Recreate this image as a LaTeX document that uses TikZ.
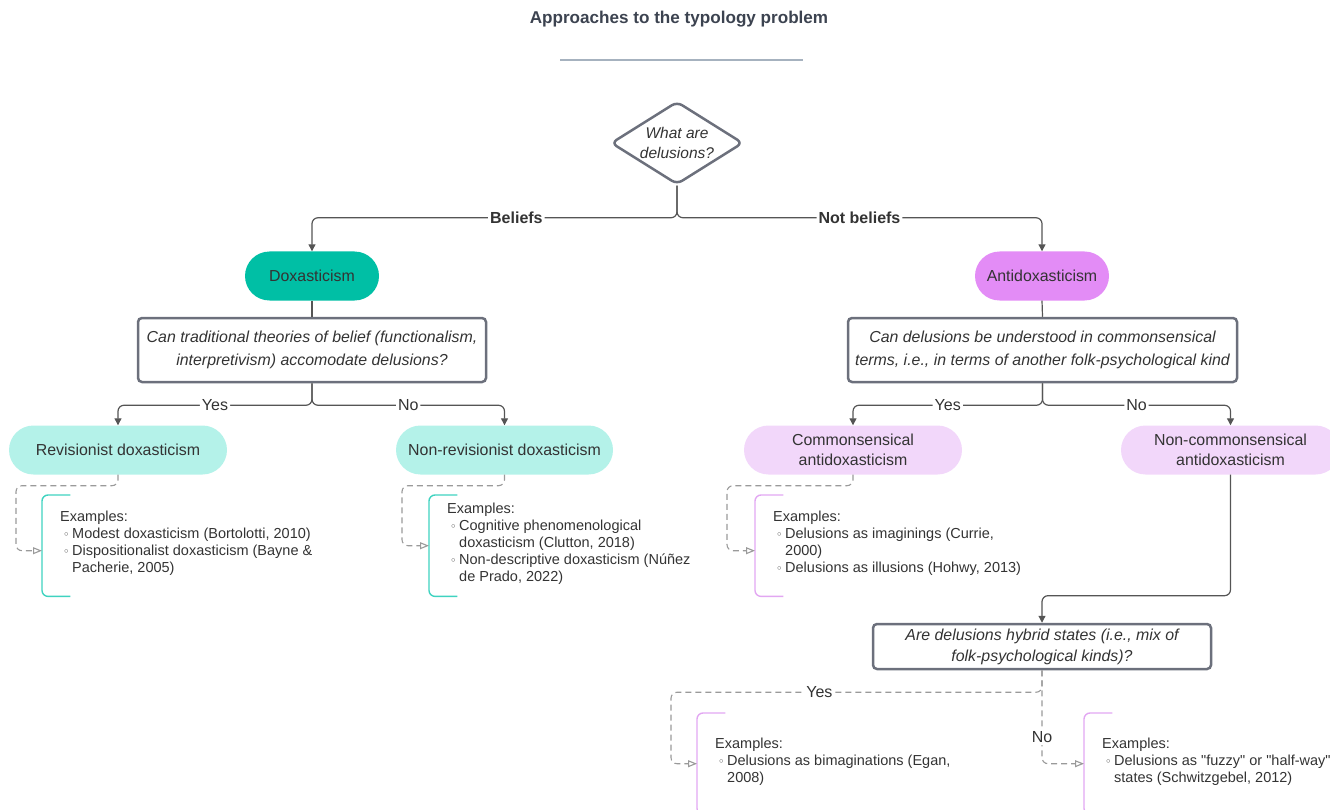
\documentclass[tikz,border=0pt]{standalone}
\usepackage{fontspec}
\setmainfont{Liberation Sans}[Ligatures=TeXOff]
\newfontfamily\dejavu{DejaVu Sans}
\usetikzlibrary{shapes.geometric,shapes.misc,arrows.meta,calc}
\definecolor{txt}{HTML}{333333}
\definecolor{titlecol}{HTML}{3C4350}
\definecolor{rulecol}{HTML}{A6B2BF}
\definecolor{boxcol}{HTML}{6C707C}
\definecolor{conncol}{HTML}{555555}
\definecolor{dashcol}{HTML}{9A9A9A}
\definecolor{teal}{HTML}{00BFA5}
\definecolor{violet}{HTML}{E38CF6}
\definecolor{lteal}{HTML}{B4F2E9}
\definecolor{lpink}{HTML}{F2D7FA}
\definecolor{bteal}{HTML}{3FD3C0}
\definecolor{bpink}{HTML}{E2A7F2}
\newcommand\bul{\makebox[12pt][r]{{\dejavu\fontsize{11}{11}\selectfont ◦}\hspace{2.5pt}}}
\newcommand\ind{\hspace*{12pt}}
\begin{document}
\begin{tikzpicture}[x=1pt,y=-1pt,
  every node/.style={text=txt},
  conn/.style={draw=conncol, line width=1.2pt, rounded corners=6pt, -{Triangle[width=7pt,length=7pt]}},
  plainconn/.style={draw=conncol, line width=1.2pt},
  dconn/.style={draw=dashcol, line width=1.1pt, dash pattern=on 6pt off 4pt, rounded corners=6pt, -{Triangle[open,width=7pt,length=9pt]}},
  qbox/.style={draw=boxcol, line width=2.5pt, rounded corners=4pt, font=\itshape\fontsize{15.9}{23}\selectfont, align=center, inner sep=0pt},
  pill/.style={rounded rectangle, minimum height=49pt, align=center, font=\fontsize{15.9}{20}\selectfont, inner sep=0pt},
  lbl/.style={fill=white, inner sep=2pt, font=\fontsize{16}{18}\selectfont},
  blbl/.style={lbl, font=\bfseries\fontsize{16}{18}\selectfont},
  frame/.style={minimum width=28pt, minimum height=101pt, inner sep=0pt, anchor=north west},
  bracket/.style={line width=1.4pt, rounded corners=6pt},
  extext/.style={anchor=west, align=left, inner sep=0pt, font=\fontsize{14.5}{17}\selectfont}
]
\useasboundingbox (0,0) rectangle (1330,810);

% title
\node[font=\bfseries\fontsize{17.1}{20}\selectfont, text=titlecol] (title) at (679,19) {Approaches to the typology problem};
\coordinate (r1) at (560,60);
\coordinate (r2) at (803,60);
\draw[rulecol, line width=1.2pt] (r1) -- (r2);

% diamond
\node[diamond, draw=boxcol, line width=2.5pt, aspect=1.6, inner sep=0pt, minimum width=132pt, minimum height=83pt, rounded corners=6pt] (q0) at (677,143) {};
\node[align=center, font=\itshape\fontsize{15.5}{20}\selectfont] (q0t) at (q0) {What are\\delusions?};

% level 1
\node[pill, fill=teal, minimum width=134pt] (dox) at (312,276) {Doxasticism};
\node[pill, fill=violet, minimum width=134pt] (anti) at (1042,276) {Antidoxasticism};

\draw[conn] (q0.south) -- ++(0,32) -| node[blbl, pos=0.22] {Beliefs} (dox.north);
\draw[conn] (q0.south) -- ++(0,32) -| node[blbl, pos=0.25] {Not beliefs} (anti.north);

% questions
\node[qbox, minimum width=348pt, minimum height=64pt] (b1) at (312,350) {Can traditional theories of belief (functionalism,\\interpretivism) accomodate delusions?};
\node[qbox, minimum width=389pt, minimum height=64pt] (b2) at (1042.5,350) {Can delusions be understood in commonsensical\\terms, i.e., in terms of another folk-psychological kind};
\draw[plainconn] (dox.south) -- (b1.north);
\draw[plainconn] (anti.south) -- (b2.north);

% level 2
\node[pill, fill=lteal, minimum width=218pt] (rev) at (118,450) {Revisionist doxasticism};
\node[pill, fill=lteal, minimum width=217pt] (nrev) at (504.5,450) {Non-revisionist doxasticism};
\node[pill, fill=lpink, minimum width=218pt] (com) at (853,450) {Commonsensical\\antidoxasticism};
\node[pill, fill=lpink, minimum width=219pt] (ncom) at (1230.5,450) {Non-commonsensical\\antidoxasticism};

\draw[conn] (b1.south) -- ++(0,22) -| node[lbl, pos=0.25] {Yes} (rev.north);
\draw[conn] (b1.south) -- ++(0,22) -| node[lbl, pos=0.25] {No} (nrev.north);
\draw[conn] (b2.south) -- ++(0,22) -| node[lbl, pos=0.25] {Yes} (com.north);
\draw[conn] (b2.south) -- ++(0,22) -| node[lbl, pos=0.25] {No} (ncom.north);

% example frames
\node[frame] (fr1) at (42,495) {};
\node[frame] (fr2) at (429,495) {};
\node[frame] (fr3) at (755,495) {};
\node[frame] (fr4) at (697,713) {};
\node[frame] (fr5) at (1084,713) {};
\draw[bracket, bteal] (fr1.north east) -- (fr1.north west) -- (fr1.south west) -- (fr1.south east);
\draw[bracket, bteal] (fr2.north east) -- (fr2.north west) -- (fr2.south west) -- (fr2.south east);
\draw[bracket, bpink] (fr3.north east) -- (fr3.north west) -- (fr3.south west) -- (fr3.south east);
\draw[bracket, bpink] (fr4.north east) -- (fr4.north west) -- (fr4.south west) -- (fr4.south east);
\draw[bracket, bpink] (fr5.north east) -- (fr5.north west) -- (fr5.south west) -- (fr5.south east);

\node[extext] (t1) at ([xshift=18pt,yshift=2pt]fr1.west) {Examples:\\\bul Modest doxasticism (Bortolotti, 2010)\\\bul Dispositionalist doxasticism (Bayne \&\\\ind Pacherie, 2005)};
\node[extext] (t2) at ([xshift=18pt,yshift=2pt]fr2.west) {Examples:\\\bul Cognitive phenomenological\\\ind doxasticism (Clutton, 2018)\\\bul Non-descriptive doxasticism (Núñez\\\ind de Prado, 2022)};
\node[extext] (t3) at ([xshift=18pt,yshift=2pt]fr3.west) {Examples:\\\bul Delusions as imaginings (Currie,\\\ind 2000)\\\bul Delusions as illusions (Hohwy, 2013)};
\node[extext] (t4) at ([xshift=18pt,yshift=2pt]fr4.west) {Examples:\\\bul Delusions as bimaginations (Egan,\\\ind 2008)};
\node[extext] (t5) at ([xshift=18pt,yshift=2pt]fr5.west) {Examples:\\\bul Delusions as "fuzzy" or "half-way"\\\ind states (Schwitzgebel, 2012)};

% dashed connectors
\draw[dconn] (rev.south) -- ++(0,11) -| ([xshift=-26pt,yshift=-5pt]fr1.west) -- ([yshift=-5pt]fr1.west);
\draw[dconn] (nrev.south) -- ++(0,11) -| ([xshift=-27pt]fr2.west) -- (fr2.west);
\draw[dconn] (com.south) -- ++(0,11) -| ([xshift=-28pt,yshift=-5pt]fr3.west) -- ([yshift=-5pt]fr3.west);

% hybrid question
\node[qbox, minimum width=338pt, minimum height=45pt, font=\itshape\fontsize{15.9}{21}\selectfont] (b3) at (1042,646.5) {Are delusions hybrid states (i.e., mix of\\folk-psychological kinds)?};
\draw[conn] (ncom.south) -- ++(0,121) -| (b3.north);

\draw[dconn] (b3.south) -- ++(0,22) -| node[lbl, pos=0.3] {Yes} ([xshift=-26pt]fr4.west) -- (fr4.west);
\draw[dconn] (b3.south) |- node[lbl, pos=0.36] {No} (fr5.west);
\end{tikzpicture}
\end{document}
